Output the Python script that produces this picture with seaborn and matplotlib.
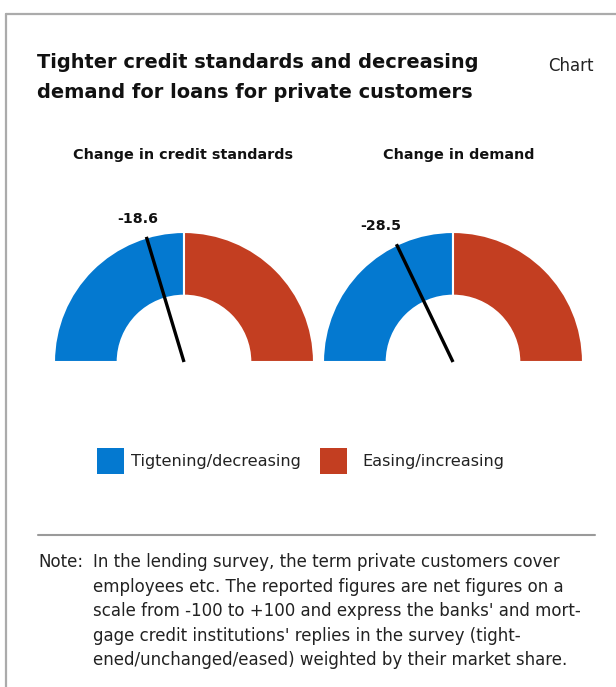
import matplotlib
matplotlib.use("Agg")
import matplotlib.pyplot as plt
from matplotlib.lines import Line2D
from matplotlib.patches import Patch
import numpy as np
import seaborn as sns

# ---- data ----
gauge_titles = ["Change in credit standards", "Change in demand"]
gauge_values = [-18.6, -28.5]
legend_labels = ["Tigtening/decreasing", "Easing/increasing"]
title_lines = ["Tighter credit standards and decreasing",
               "demand for loans for private customers"]
note_lines = ["In the lending survey, the term private customers cover",
              "employees etc. The reported figures are net figures on a",
              "scale from -100 to +100 and express the banks' and mort-",
              "gage credit institutions' replies in the survey (tight-",
              "ened/unchanged/eased) weighted by their market share."]
scale_min, scale_max = -100, 100

sns.set_theme(style="white")
plt.rcParams['font.family'] = ['DejaVu Sans']

BLUE = "#0479D0"
RED = "#C33E21"
W, H = 616, 687
fig = plt.figure(figsize=(W / 100, H / 100), dpi=100)
fig.patch.set_facecolor("white")


def fx(x):
    return x / W


def fy(y):
    return 1 - y / H


# frame lines
fig.add_artist(Line2D([fx(6), fx(6)], [fy(14), fy(687)], color="#ABABAB", lw=1.6))
fig.add_artist(Line2D([fx(6), fx(616)], [fy(14), fy(14)], color="#ABABAB", lw=1.6))

# title
fig.text(fx(37), fy(62), title_lines[0], fontsize=13.95, fontweight="bold",
         va="center", ha="left", color="#111111")
fig.text(fx(37), fy(93), title_lines[1], fontsize=13.95, fontweight="bold",
         va="center", ha="left", color="#111111")
fig.text(fx(594), fy(66), "Chart", fontsize=12.0, va="center", ha="right", color="#222222")

# gauges
R = 130.0  # outer radius in px
centers = [(184, 362), (453, 362)]
sub_x = [183, 459]
label_dx = [0.09, 0.035]
for (cx, cy), val, ttl, sx, ldx in zip(centers, gauge_values, gauge_titles, sub_x, label_dx):
    left_px, right_px = 155, 155
    below_px, above_px = 20, 190
    ax = fig.add_axes([fx(cx - left_px), fy(cy + below_px),
                       (left_px + right_px) / W, (below_px + above_px) / H])
    half = (scale_max - scale_min) / 2
    ax.pie([half, half, scale_max - scale_min],
           colors=[BLUE, RED, "none"], startangle=180, counterclock=False,
           radius=1.0, wedgeprops=dict(width=0.49, edgecolor="white", linewidth=1.5))
    ax.patches[2].set_edgecolor("none")
    ax.set_aspect("auto")
    ax.set_xlim(-left_px / R, right_px / R)
    ax.set_ylim(-below_px / R, above_px / R)
    ax.axis("off")
    theta = np.deg2rad(90 - val / (scale_max - scale_min) * 180)
    tx, ty = np.cos(theta), np.sin(theta)
    ax.plot([0, tx * 1.005], [0, ty * 1.005], color="black", lw=2.4,
            solid_capstyle="butt", zorder=5)
    ax.text(tx + ldx, ty + 0.09, f"{val:.1f}", ha="right", va="bottom",
            fontsize=10.2, fontweight="bold", color="#111111")
    fig.text(fx(sx), fy(155), ttl, ha="center", va="center", fontsize=10.35,
             fontweight="bold", color="#111111")

# legend (one entry per legend to match spacing)
legend_x = [91, 314]
legend_pad = [0.45, 0.95]
for lab, col, lxp, pad in zip(legend_labels, [BLUE, RED], legend_x, legend_pad):
    fig.legend([Patch(facecolor=col, edgecolor="none")], [lab], loc="center left",
               bbox_to_anchor=(fx(lxp), fy(461)), frameon=False, fontsize=11.6,
               handlelength=1.65, handleheight=2.15, handletextpad=pad,
               borderaxespad=0, borderpad=0.4, labelcolor="#222222")

# separator and note
fig.add_artist(Line2D([fx(38), fx(595)], [fy(535), fy(535)], color="#9A9A9A", lw=1.5))
fig.text(fx(38), fy(562), "Note:", fontsize=12.0, va="center", ha="left", color="#222222")
for i, line in enumerate(note_lines):
    fig.text(fx(93), fy(562 + i * 24.6), line, fontsize=12.0, va="center", ha="left",
             color="#222222")

fig.savefig("out.png", dpi=100, facecolor="white")
